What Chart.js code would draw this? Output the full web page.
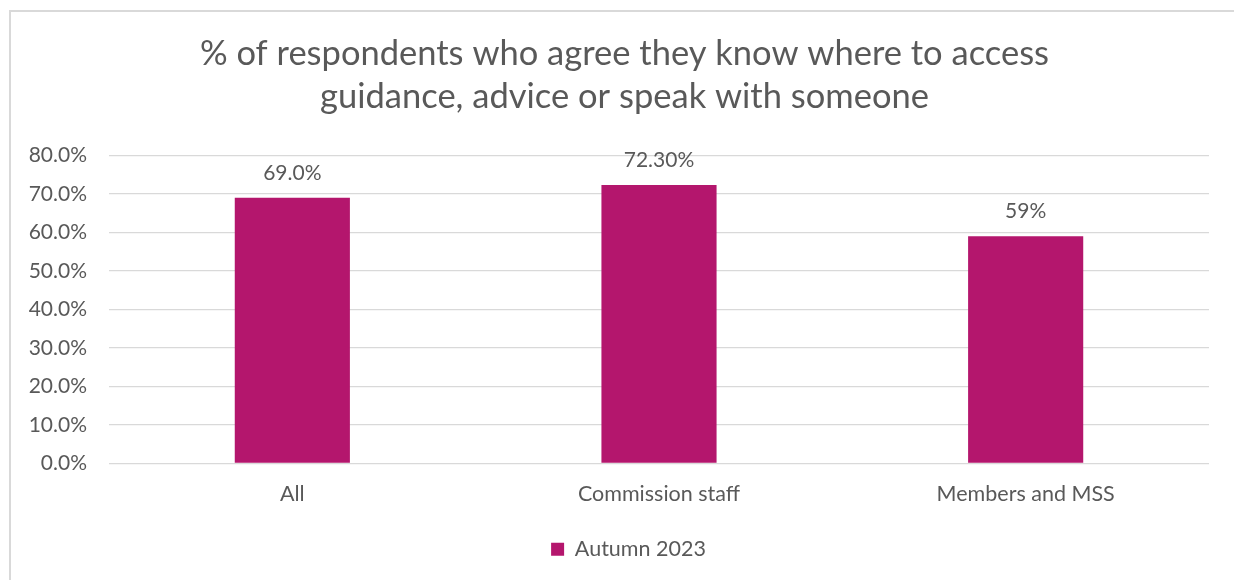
<!DOCTYPE html>
<html><head><meta charset="utf-8">
<script src="https://cdn.jsdelivr.net/npm/chart.js@4/dist/chart.umd.min.js"></script>
<style>
html,body{margin:0;padding:0;background:#fff;overflow:hidden;}
#frame{position:absolute;left:9px;top:10px;width:1260px;height:600px;border:2px solid #d9d9d9;box-sizing:border-box;}
#wrap{position:absolute;left:0;top:0;width:1234px;height:580px;}
</style></head><body>
<div id="frame"></div>
<div id="wrap"><canvas id="c" width="1234" height="580"></canvas></div>
<script>
// Survey result: share of respondents who know where to get guidance
const categories = ['All', 'Commission staff', 'Members and MSS'];
const autumn2023 = [69.0, 72.3, 59];
const valueLabels = ['69.0%', '72.30%', '59%'];
const seriesName = 'Autumn 2023';
const titleLines = ['% of respondents who agree they know where to access', 'guidance, advice or speak with someone'];

const textColor = '#595959';
const barColor = '#B4166D';
const gridColor = '#D9D9D9';
const fontFamily = 'Lato, "Open Sans", sans-serif';

// writes the value text above each bar
const barValueLabels = {
  id: 'barValueLabels',
  afterDatasetsDraw(chart) {
    const ctx = chart.ctx;
    const meta = chart.getDatasetMeta(0);
    ctx.save();
    ctx.font = '21px ' + fontFamily;
    ctx.fillStyle = textColor;
    ctx.textAlign = 'center';
    ctx.textBaseline = 'alphabetic';
    meta.data.forEach((bar, i) => {
      ctx.fillText(valueLabels[i], bar.x, bar.y - 18);
    });
    ctx.restore();
  }
};

// the title and legend sit centred on the whole frame, a little right of the plot centre
const centreOnFrame = {
  id: 'centreOnFrame',
  afterLayout(chart) {
    if (chart.titleBlock) { chart.titleBlock.left += 10; chart.titleBlock.right += 10; }
    if (chart.legend) { chart.legend.left += 14; chart.legend.right += 14; }
  }
};

new Chart(document.getElementById('c'), {
  type: 'bar',
  data: {
    labels: categories,
    datasets: [{
      label: seriesName,
      data: autumn2023,
      backgroundColor: barColor,
      borderWidth: 0,
      categoryPercentage: 1,
      barPercentage: 0.314
    }]
  },
  options: {
    responsive: false,
    animation: false,
    devicePixelRatio: 1,
    layout: { padding: { left: 20, right: 25, top: 10, bottom: 10 } },
    plugins: {
      title: {
        display: true,
        text: titleLines,
        color: textColor,
        font: { family: fontFamily, size: 34.5, weight: 'normal', lineHeight: 1.25 },
        padding: { top: 22, bottom: 37 }
      },
      legend: {
        display: true,
        position: 'bottom',
        labels: {
          color: textColor,
          font: { family: fontFamily, size: 21.5 },
          boxWidth: 13,
          boxHeight: 13,
          padding: 10
        }
      },
      tooltip: { enabled: false }
    },
    scales: {
      x: {
        grid: { display: false },
        border: { display: false },
        ticks: { color: textColor, font: { family: fontFamily, size: 21.5 }, padding: 10 },
        afterFit(scale) { scale.height = 65; }
      },
      y: {
        min: 0,
        max: 80,
        ticks: {
          stepSize: 10,
          color: textColor,
          font: { family: fontFamily, size: 21 },
          padding: 22,
          callback: v => v.toFixed(1) + '%'
        },
        grid: { color: gridColor, lineWidth: 1.3, drawTicks: false },
        border: { display: false },
        afterFit(scale) { scale.width = 89; }
      }
    }
  },
  plugins: [barValueLabels, centreOnFrame]
});
</script>
</body></html>
